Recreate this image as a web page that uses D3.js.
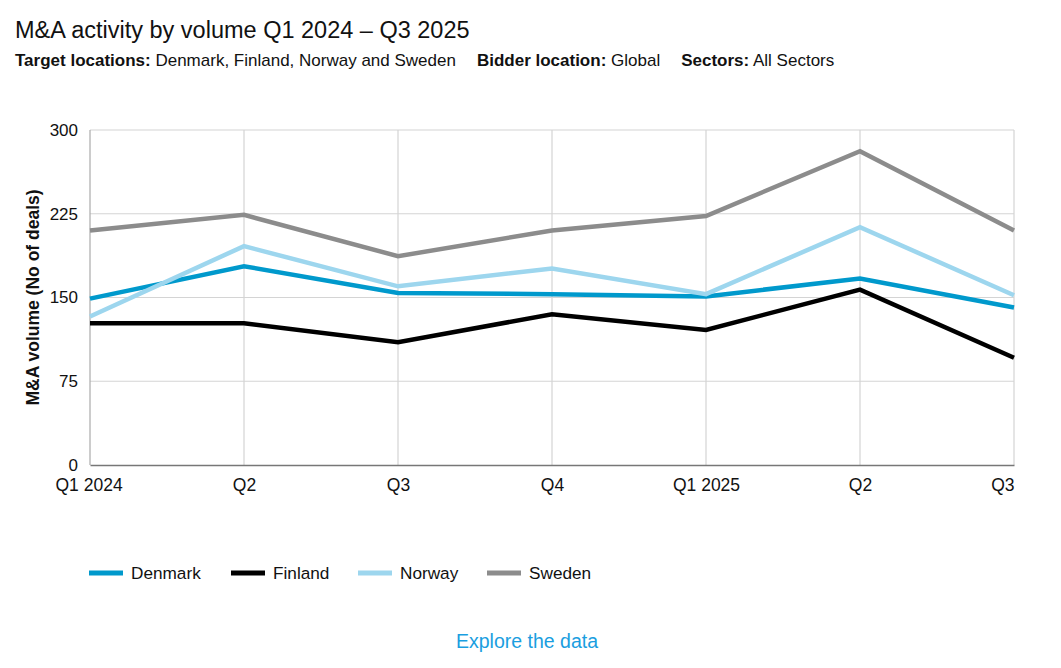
<!DOCTYPE html>
<html>
<head>
<meta charset="utf-8">
<script src="https://cdn.jsdelivr.net/npm/d3@7"></script>
<style>
  body { margin: 0; background: #fff; font-family: "Liberation Sans", Arial, sans-serif; }
</style>
</head>
<body>
<div class="canvas"></div>
<script>
const quarters = ['Q1 2024', 'Q2', 'Q3', 'Q4', 'Q1 2025', 'Q2 ', 'Q3 ']
const countries = ['Denmark', 'Finland', 'Norway', 'Sweden']
const denmark = [149, 178, 154, 153, 151, 167, 141]
const finland = [127, 127, 110, 135, 121, 157, 96]
const norway = [133, 196, 160, 176, 153, 213, 152]
const sweden = [210, 224, 187, 210, 223, 281, 210]
const yTicks = [0, 75, 150, 225, 300]
const colors = ['#0099cc', '#000000', '#9dd6ee', '#8c8c8c']

const series = [denmark, finland, norway, sweden].map((values, i) => ({
    name: countries[i],
    color: colors[i],
    values: values.map((v, j) => ({ q: quarters[j], v: v }))
}))

const W = 1061, H = 668
const margins = { top: 130, right: 47, bottom: 203, left: 90 }
const gWidth = W - margins.left - margins.right
const gHeight = H - margins.top - margins.bottom
const font = '"Liberation Sans", Arial, sans-serif'

const svg = d3.select('.canvas').append('svg').attr('width', W).attr('height', H)
    .attr('font-family', font)

// titles
svg.append('text').attr('x', 15).attr('y', 38)
    .attr('font-size', 23.5).attr('fill', '#111').text('M&A activity by volume Q1 2024 – Q3 2025')

const sub = svg.append('text').attr('x', 15).attr('y', 66).attr('font-size', 17).attr('fill', '#111')
const parts = [['Target locations:', ' Denmark, Finland, Norway and Sweden'], ['Bidder location:', ' Global'], ['Sectors:', ' All Sectors']]
parts.forEach((p, i) => {
    sub.append('tspan').attr('font-weight', 'bold').attr('dx', i ? 21 : 0).text(p[0])
    sub.append('tspan').text(p[1])
})

const graph = svg.append('g').attr('transform', `translate(${margins.left}, ${margins.top})`)

const x = d3.scalePoint().domain(quarters).range([0, gWidth])
const y = d3.scaleLinear().domain([0, 300]).range([gHeight, 0])

// grid
graph.append('g').selectAll('line').data(yTicks.slice(1)).enter().append('line')
    .attr('x1', 0).attr('x2', gWidth)
    .attr('y1', d => y(d)).attr('y2', d => y(d))
    .attr('stroke', '#d4d4d4').attr('stroke-width', 1.2)
graph.append('g').selectAll('line').data(quarters.slice(1)).enter().append('line')
    .attr('x1', d => x(d)).attr('x2', d => x(d))
    .attr('y1', 0).attr('y2', gHeight)
    .attr('stroke', '#d4d4d4').attr('stroke-width', 1.2)
graph.append('line').attr('x1', 0).attr('x2', 0).attr('y1', 0).attr('y2', gHeight)
    .attr('stroke', '#aaa').attr('stroke-width', 1.2)

// axes
const yAxis = d3.axisLeft(y).tickValues(yTicks).tickSize(0).tickPadding(12)
const yAxisGroup = graph.append('g').call(yAxis)
yAxisGroup.select('.domain').remove()
yAxisGroup.attr('font-size', 17).attr('font-family', font)
yAxisGroup.selectAll('text').attr('fill', '#111')

const xAxis = d3.axisBottom(x).tickSize(0).tickPadding(14)
const xAxisGroup = graph.append('g').attr('transform', `translate(0, ${gHeight})`).call(xAxis)
xAxisGroup.attr('font-size', 17.5).attr('font-family', font)
xAxisGroup.select('.domain').attr('stroke', '#777').attr('stroke-width', 1.5)
xAxisGroup.selectAll('text').attr('fill', '#111')
    .attr('text-anchor', (d, i) => i === 0 ? 'start' : i === quarters.length - 1 ? 'end' : 'middle')
    .attr('dx', (d, i) => i === 0 ? -35 : 0)

// y label
svg.append('text').attr('transform', `translate(39, ${margins.top + gHeight / 2}) rotate(-90)`)
    .attr('text-anchor', 'middle').attr('font-size', 17.5).attr('font-weight', 'bold').attr('fill', '#111')
    .text('M&A volume (No of deals)')

// lines
const line = d3.line().x(d => x(d.q)).y(d => y(d.v))
graph.append('g').selectAll('path').data(series).enter().append('path')
    .attr('d', d => line(d.values))
    .attr('fill', 'none')
    .attr('stroke', d => d.color)
    .attr('stroke-width', 4.5)
    .attr('stroke-linejoin', 'miter')

// legend
const legendX = [89, 231, 358, 487]
const legend = svg.append('g').attr('transform', 'translate(0, 573)')
const items = legend.selectAll('g').data(series).enter().append('g')
    .attr('transform', (d, i) => `translate(${legendX[i]}, 0)`)
items.append('rect').attr('x', 0).attr('y', -2.5).attr('width', 34).attr('height', 5).attr('fill', d => d.color)
items.append('text').attr('x', 42).attr('y', 6).attr('font-size', 17.2).attr('fill', '#111').text(d => d.name)

svg.append('text').attr('x', 527).attr('y', 648).attr('text-anchor', 'middle')
    .attr('font-size', 19.5).attr('fill', '#1a9ee0').text('Explore the data')
</script>
</body>
</html>
